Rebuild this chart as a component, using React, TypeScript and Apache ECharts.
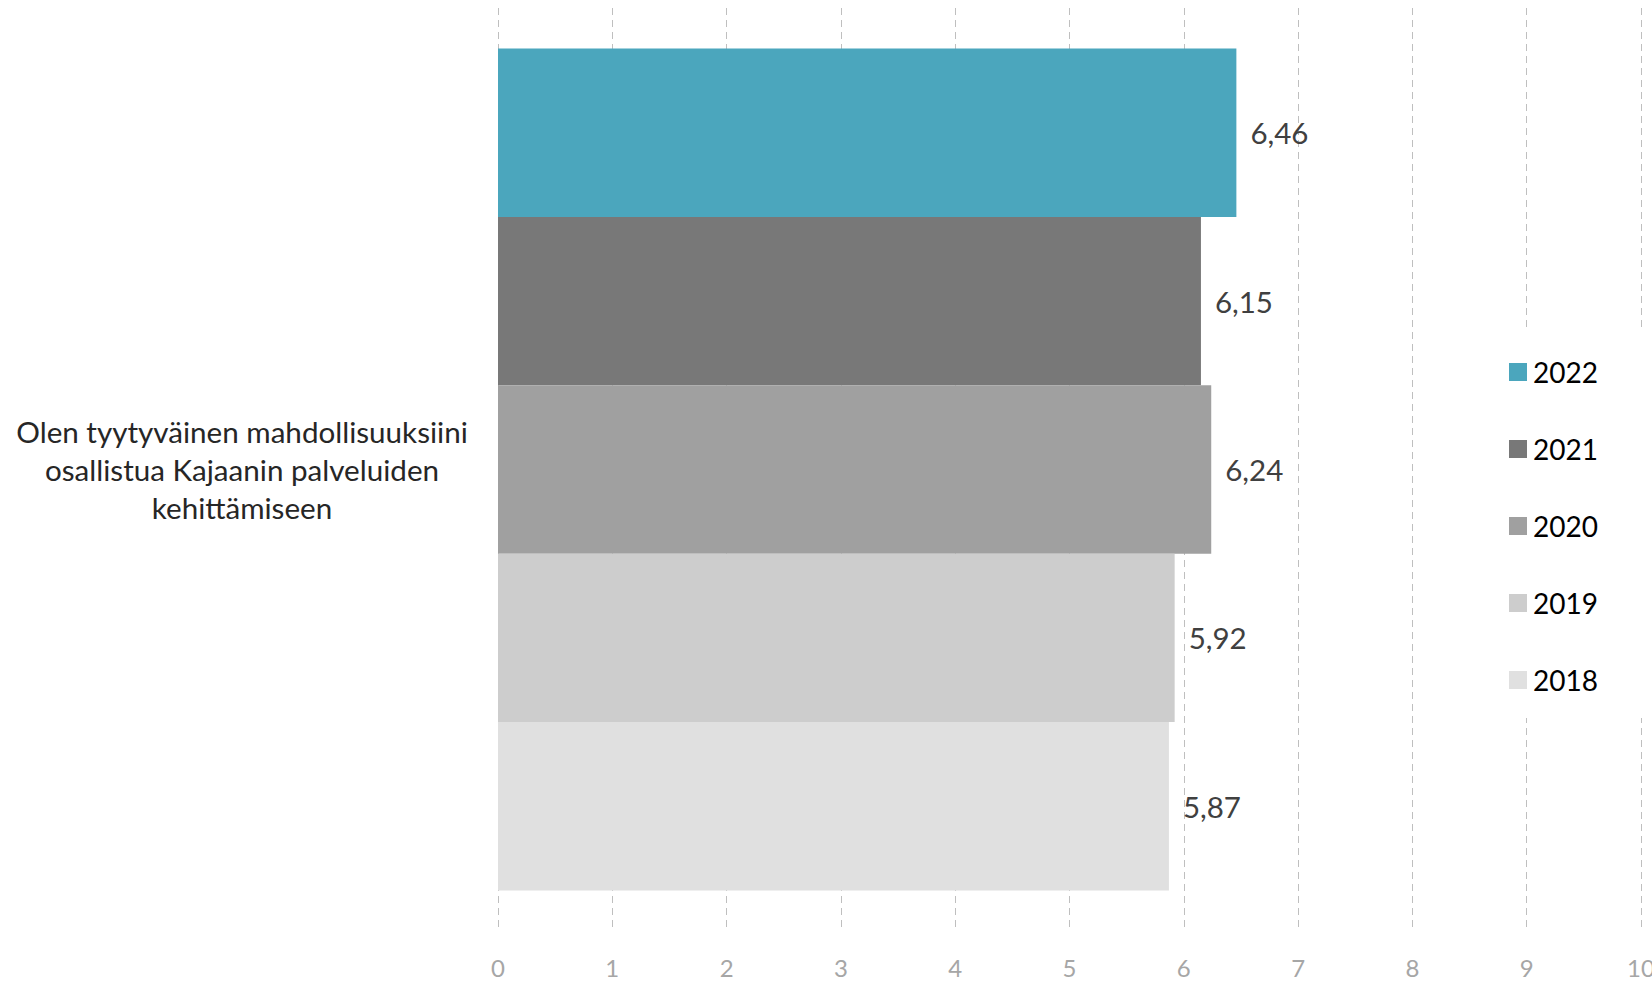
import React, { useEffect, useRef } from "react";
import * as echarts from "echarts";

const categories = ["Olen tyytyväinen mahdollisuuksiini\nosallistua Kajaanin palveluiden\nkehittämiseen"];
// top-to-bottom order
const years = ["2022", "2021", "2020", "2019", "2018"];
const values = [6.46, 6.15, 6.24, 5.92, 5.87];
const colors = ["#4BA6BD", "#787878", "#A0A0A0", "#CDCDCD", "#E0E0E0"];
const xTicks = [0, 1, 2, 3, 4, 5, 6, 7, 8, 9, 10];

const FONT = "Lato";

export default function App() {
  const ref = useRef<HTMLDivElement>(null);
  useEffect(() => {
    if (!ref.current) return;
    const chart = echarts.init(ref.current, undefined, { renderer: "svg" });
    chart.setOption({
      animation: false,
      textStyle: { fontFamily: FONT },
      grid: { left: 498, right: 11, top: 8, bottom: 56, containLabel: false, outerBoundsMode: "none" },
      legend: {
        data: years,
        orient: "vertical",
        left: 1498,
        top: 332,
        itemWidth: 18,
        itemHeight: 18,
        itemGap: 49,
        padding: [26, 60, 24, 11],
        backgroundColor: "#ffffff",
        icon: "rect",
        textStyle: { fontFamily: FONT, fontSize: 28, color: "#000000", padding: [0, 0, 0, 1] },
      },
      xAxis: {
        type: "value",
        min: xTicks[0],
        max: xTicks[xTicks.length - 1],
        interval: 1,
        axisLine: { show: false },
        axisTick: { show: false },
        axisLabel: { color: "#A6A6A6", fontSize: 24, margin: 24, fontFamily: FONT },
        splitLine: { show: true, lineStyle: { color: "#BFBFBF", width: 1, type: [7, 5] } },
      },
      yAxis: {
        type: "category",
        data: categories,
        axisLine: { show: false },
        axisTick: { show: false },
        axisLabel: {
          align: "center",
          margin: 256,
          fontSize: 29.6,
          lineHeight: 38,
          color: "#262626",
          fontFamily: FONT,
        },
      },
      series: years.map((y, i) => ({
        name: y,
        type: "bar",
        data: [values[i]],
        barGap: "0%",
        barCategoryGap: "8.8%",
        itemStyle: { color: colors[i] },
        label: {
          show: true,
          position: "right",
          distance: 14,
          fontSize: 29.5,
          color: "#404040",
          fontFamily: FONT,
          formatter: (p: any) => String(p.value.toFixed(2)).replace(".", ","),
        },
      })),
    });
    return () => chart.dispose();
  }, []);
  return <div ref={ref} style={{ width: 1652, height: 987, position: "absolute", left: 0, top: 0 }} />;
}
